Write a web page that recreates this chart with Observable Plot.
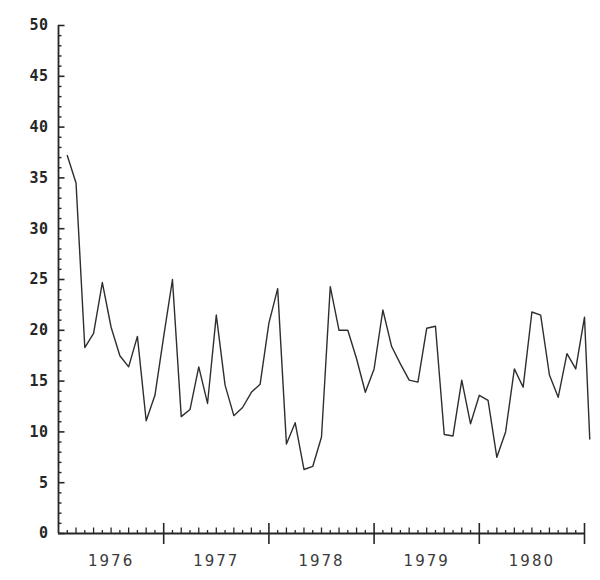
<!DOCTYPE html>
<html>
<head>
<meta charset="utf-8">
<script src="https://cdn.jsdelivr.net/npm/d3@7"></script>
<script src="https://cdn.jsdelivr.net/npm/@observablehq/plot@0.6"></script>
<style>
  html, body { margin: 0; padding: 0; background: #fff; }
  #chart svg { display: block; }
</style>
</head>
<body>
<div id="chart"></div>
<script>
// Month offsets from January 1976 (x) and the plotted values (y)
const months = [1,2,3,4,5,6,7,8,9,10,11,12,13,14,15,16,17,18,19,20,
  21,22,23,24,25,26,27,28,29,30,31,32,33,34,35,36,37,38,39,40,
  41,42,43,44,45,46,47,48,49,50,51,52,53,54,55,56,57,58,59,60,60.6];
const values = [37.2, 34.5, 18.3, 19.7, 24.7, 20.3, 17.5, 16.4, 19.4, 11.1,
  13.6, 19.4, 25.0, 11.5, 12.2, 16.4, 12.8, 21.5, 14.6, 11.6,
  12.4, 13.9, 14.7, 20.7, 24.1, 8.8, 10.9, 6.3, 6.6, 9.5,
  24.3, 20.0, 20.0, 17.2, 13.9, 16.2, 22.0, 18.4, 16.7, 15.1,
  14.9, 20.2, 20.4, 9.75, 9.6, 15.1, 10.8, 13.6, 13.1, 7.5,
  10.0, 16.2, 14.4, 21.8, 21.5, 15.6, 13.4, 17.7, 16.2, 21.3, 9.3];

const yearLabels = ["1976", "1977", "1978", "1979", "1980"];
const yearCenters = [6, 18, 30, 42, 54];
const yearBounds = [12, 24, 36, 48, 60];
const monthTicks = d3.range(1, 60).filter(m => m % 12 !== 0);
const yMajorTicks = [0, 5, 10, 15, 20, 25, 30, 35, 40, 45, 50];
const yMinorTicks = d3.range(1, 50).filter(v => v % 5 !== 0);

const series = months.map((m, i) => ({m, v: values[i]}));

const W = 600, H = 580;
const mL = 58, mR = 16, mT = 25, mB = 47;
const plotW = W - mL - mR, plotH = H - mT - mB;
const ink = "#262626";

const chart = Plot.plot({
  width: W,
  height: H,
  marginLeft: mL,
  marginRight: mR,
  marginTop: mT,
  marginBottom: mB,
  x: {type: "linear", domain: [0, 60], axis: null},
  y: {domain: [0, 50], axis: null},
  marks: [
    // y axis line
    Plot.ruleX([0], {stroke: ink, strokeWidth: 1.8}),
    // x axis line
    Plot.ruleY([0], {stroke: ink, strokeWidth: 1.8}),
    // y minor ticks (pointing into the plot)
    Plot.ruleY(yMinorTicks, {y: d => d, stroke: ink, strokeWidth: 1.4, insetRight: plotW - 3.5}),
    // y major ticks
    Plot.ruleY(yMajorTicks, {y: d => d, stroke: ink, strokeWidth: 1.6, insetRight: plotW - 6.5}),
    // x monthly ticks (alternating heights)
    Plot.ruleX(monthTicks.filter(m => m % 2 === 1), {x: d => d, stroke: ink, strokeWidth: 1.3, insetTop: plotH - 3}),
    Plot.ruleX(monthTicks.filter(m => m % 2 === 0), {x: d => d, stroke: ink, strokeWidth: 1.3, insetTop: plotH - 5.5}),
    // x year boundary ticks (cross the axis)
    Plot.ruleX(yearBounds, {x: d => d, stroke: ink, strokeWidth: 1.6, insetTop: plotH - 10, insetBottom: -11}),
    // y tick labels
    Plot.text(yMajorTicks, {
      y: d => d, text: d => String(d), frameAnchor: "left", dx: -10, textAnchor: "end",
      fontFamily: "DejaVu Sans Mono", fontWeight: "bold", fontSize: 15, fill: ink,
      lineAnchor: "middle"
    }),
    // year labels
    Plot.text(yearLabels, {
      x: (d, i) => yearCenters[i], text: d => d, frameAnchor: "bottom", dy: 28,
      fontFamily: "DejaVu Sans", fontSize: 15, fill: "#3a3a3a", lineAnchor: "middle"
    }),
    // the series
    Plot.line(series, {x: "m", y: "v", stroke: "#2e2e2e", strokeWidth: 1.4, clip: false})
  ]
});

chart.querySelectorAll("text").forEach(t => {
  const txt = t.textContent;
  if (/^\d{4}$/.test(txt)) t.setAttribute("letter-spacing", "2");
  else t.setAttribute("letter-spacing", "0.5");
});
document.getElementById("chart").appendChild(chart);
</script>
</body>
</html>
